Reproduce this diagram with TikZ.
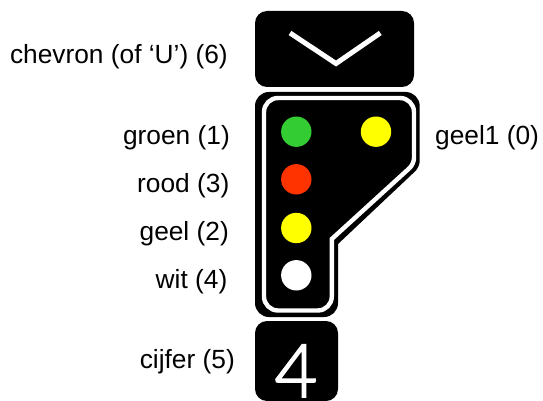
\documentclass[tikz,border=0pt]{standalone}
\usepackage{fontspec}
\setmainfont{Liberation Sans}
\newfontfamily\lightfont[UprightFont=* Light,FakeBold=2.2]{Lato}
\definecolor{sgreen}{RGB}{51,204,51}
\definecolor{sred}{RGB}{255,51,0}
\definecolor{syellow}{RGB}{255,255,0}
\tikzset{
  lamp/.style={circle,draw=none,minimum size=30.4pt,inner sep=0pt},
  lbl/.style={font=\fontsize{26.3pt}{28pt}\selectfont,inner sep=0pt,anchor=base east,text=black},
  lbll/.style={lbl,anchor=base west},
  panel/.style={fill=black,draw=none,rounded corners=12pt},
}
\begin{document}
\begin{tikzpicture}[x=1pt,y=-1pt]
\useasboundingbox (0,0) rectangle (543,401);
% chevron box
\fill[panel] (255,11) rectangle (414,87);
\draw[white,line width=5pt,miter limit=10] (290,33) -- (336,63.5) -- (380.3,33);
% main panel
\fill[black] (255,106) arc[start angle=180,end angle=90,radius=14pt] -- (405.7,92) arc[start angle=90,end angle=0,radius=14pt] -- (419.7,158) [rounded corners=6pt] -- (419.7,167) [sharp corners] -- (338,244) -- (338,303) arc[start angle=0,end angle=-90,radius=14pt] -- (269,317) arc[start angle=-90,end angle=-180,radius=14pt] -- cycle;
\draw[white,line width=4.4pt,line join=miter,miter limit=10] (264,112) arc[start angle=180,end angle=90,radius=14pt] -- (400,98) arc[start angle=90,end angle=0,radius=14pt] -- (414,155) [rounded corners=6pt] -- (414,164) [sharp corners] -- (331.8,239) -- (331.8,296.5) arc[start angle=0,end angle=-90,radius=14pt] -- (278,310.5) arc[start angle=-90,end angle=-180,radius=14pt] -- cycle;
% lamps
\node[lamp,fill=sgreen] (groen) at (296.3,131.7) {};
\node[lamp,fill=syellow] (geelA) at (376,131.7) {};
\node[lamp,fill=sred] (rood) at (296.3,179.3) {};
\node[lamp,fill=syellow] (geel) at (296.3,228) {};
\node[lamp,fill=white] (wit) at (296.3,275.3) {};
% digit box
\fill[panel] (255,321) rectangle (338,401);
\node[white,inner sep=0pt,anchor=base,font=\fontsize{74pt}{74pt}\lightfont] (cijfer) at (296,397) {4};
% labels
\node[lbl] (l6) at (228,64) {chevron (of ‘U’) (6)};
\node[lbl] (l1) at (230,144) {groen (1)};
\node[lbl] (l3) at (229.5,192) {rood (3)};
\node[lbl] (l2) at (229,240) {geel (2)};
\node[lbl] (l4) at (227.5,288) {wit (4)};
\node[lbl] (l5) at (235,368) {cijfer (5)};
\node[lbll] (l0) at (435,144) {geel1 (0)};
\end{tikzpicture}
\end{document}
